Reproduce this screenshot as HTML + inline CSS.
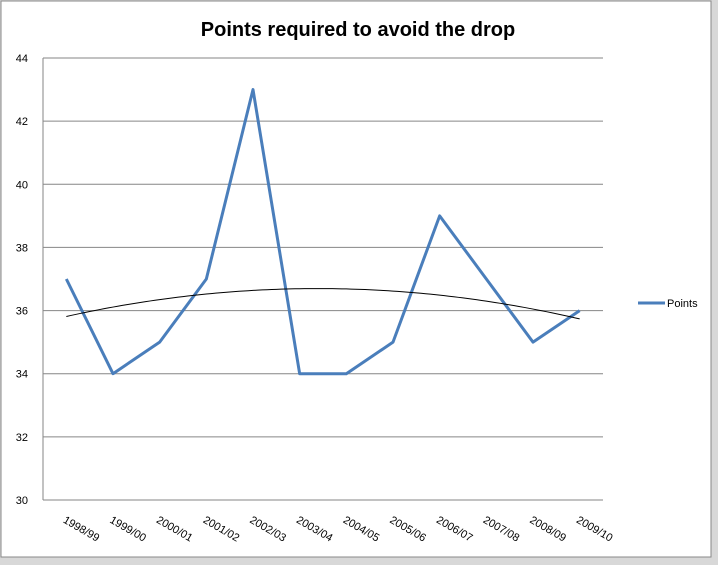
<!DOCTYPE html>
<html><head><meta charset="utf-8"><style>
body{margin:0;background:#fff;}
svg{display:block;font-family:"Liberation Sans",sans-serif;}
</style></head><body>
<svg width="718" height="565">
<rect x="0" y="0" width="718" height="565" fill="#d8d8d8"/>
<rect x="1" y="1" width="710" height="556" fill="#fff" stroke="#888"/>
<text x="358" y="36" text-anchor="middle" font-size="20" font-weight="bold">Points required to avoid the drop</text>
<g id="grid"></g><g id="yl"></g><g id="xl"></g><g id="series"></g>
<g>
<line x1="638" y1="303" x2="665" y2="303" stroke="#4a7ebb" stroke-width="3"/>
<text x="667" y="307" font-size="11">Points</text>
</g>
</svg>
<script>
const categories=["1998/99","1999/00","2000/01","2001/02","2002/03","2003/04","2004/05","2005/06","2006/07","2007/08","2008/09","2009/10"];
const points=[37,34,35,37,43,34,34,35,39,37,35,36];
const yTicks=[30,32,34,36,38,40,42,44];
const L=43,R=603,T=58,B=500,yMin=30,yMax=44;
const NS="http://www.w3.org/2000/svg";
const y=v=>B-(v-yMin)/(yMax-yMin)*(B-T);
const step=(R-L)/categories.length;
const x=i=>L+step*(i+0.5);
function mk(t,a,p){const e=document.createElementNS(NS,t);for(const k in a)e.setAttribute(k,a[k]);document.getElementById(p).appendChild(e);return e;}
yTicks.forEach(v=>{
 const g=mk('line',{x1:L,x2:R,y1:y(v),y2:y(v),stroke:'#868686'},'grid');
 
 
 const t=mk('text',{x:28,y:y(v)+4,'font-size':11,'text-anchor':'end'},'yl');t.textContent=v;
 
 
});
const ax=mk('line',{x1:L,x2:L,y1:T,y2:B,stroke:'#868686'},'grid');


categories.forEach((c,i)=>{
 const px=x(i)-4,py=522;
 const t=mk('text',{x:px,y:py,'font-size':11,transform:`rotate(30 ${px} ${py})`},'xl');t.textContent=c;
 
 
});
const ln=mk('polyline',{points:points.map((v,i)=>x(i)+','+y(v)).join(' '),fill:'none',stroke:'#4a7ebb','stroke-width':3,'stroke-linejoin':'round'},'series');


// quadratic trendline by least squares
const n=points.length;let S=[0,0,0,0,0],Ty=[0,0,0];
points.forEach((v,i)=>{const t=i+1;for(let k=0;k<5;k++)S[k]+=t**k;for(let k=0;k<3;k++)Ty[k]+=v*t**k;});
const M=[[S[0],S[1],S[2],Ty[0]],[S[1],S[2],S[3],Ty[1]],[S[2],S[3],S[4],Ty[2]]];
for(let i=0;i<3;i++){for(let j=i+1;j<3;j++){const f=M[j][i]/M[i][i];for(let k=i;k<4;k++)M[j][k]-=f*M[i][k];}}
const c=[0,0,0];for(let i=2;i>=0;i--){let s=M[i][3];for(let k=i+1;k<3;k++)s-=M[i][k]*c[k];c[i]=s/M[i][i];}
let pts=[];for(let s=0;s<=110;s++){const t=1+s/10;const v=c[0]+c[1]*t+c[2]*t*t;pts.push((x(0)+(t-1)*step)+','+y(v));}
const tr=mk('polyline',{points:pts.join(' '),fill:'none',stroke:'#000','stroke-width':1},'series');


</script>
</body></html>
